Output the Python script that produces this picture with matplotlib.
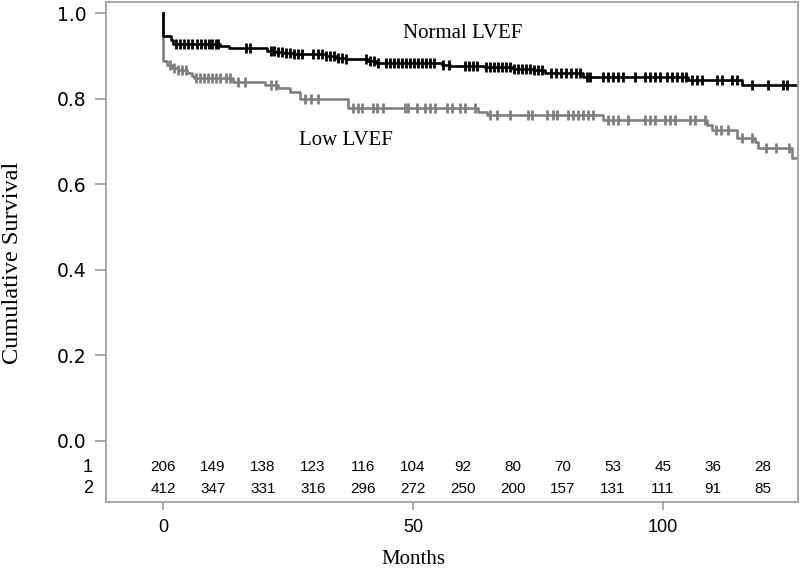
import numpy as np
import matplotlib
matplotlib.use("Agg")
import matplotlib.pyplot as plt

# Kaplan-Meier steps (time in months, survival after the step)
normal_times = [0, 0, 1.5, 2.0, 11.4, 13.2, 20.7, 22.4, 24.0, 26.0, 32.5, 34.5, 36.5, 41.0, 42.5,
                55.8, 57.4, 64.2, 70.0, 74.0, 76.4, 84.0, 105.0, 115.8, 126.8]
normal_surv = [1.0, 0.946, 0.937, 0.929, 0.923, 0.919, 0.912, 0.909, 0.906, 0.904, 0.900, 0.896, 0.892, 0.888, 0.884,
               0.879, 0.877, 0.873, 0.869, 0.866, 0.859, 0.851, 0.843, 0.832, 0.832]
normal_censor = [2.5, 3.3, 4.2, 5.0, 5.8, 6.7, 7.5, 8.3, 9.2, 9.8, 10.5, 11.0, 16.6, 17.4,
                 21.5, 22.2, 23.0, 23.8, 24.6, 25.4, 26.2, 27.0, 27.8, 30.0, 31.0, 31.8,
                 32.6, 33.4, 34.2, 35.0, 35.8, 36.6, 40.6, 41.4, 42.2, 43.0,
                 44.6, 45.4, 46.2, 47.0, 47.8, 48.6, 49.4, 50.2, 51.0, 51.8, 52.6, 53.4, 54.2,
                 56.0, 57.2, 60.4, 61.2, 62.0, 62.8,
                 64.6, 65.4, 66.2, 67.0, 67.8, 68.6, 69.4, 70.2, 71.0, 71.8, 72.6, 73.4, 74.2, 75.0, 75.8,
                 77.6, 78.6, 79.6, 80.6, 81.6, 82.6, 83.4, 84.8, 85.4, 88.0, 89.0, 90.0, 91.0, 92.0,
                 94.4, 96.4, 97.4, 98.4, 99.4, 100.8, 101.8, 102.8, 103.8, 104.6,
                 105.8, 106.8, 107.8, 110.8, 111.8, 113.8, 114.8, 117.8, 121.0, 124.0, 124.8]

low_times = [0, 0, 0.7, 1.7, 3.0, 4.7, 5.7, 6.2, 14.0, 20.4, 23.0, 25.4, 27.4, 37.0, 63.0, 64.8,
             88.0, 108.8, 109.8, 114.8, 118.4, 119.0, 125.8, 126.8]
low_surv = [1.0, 0.888, 0.879, 0.872, 0.867, 0.859, 0.853, 0.849, 0.838, 0.832, 0.824, 0.816, 0.800, 0.779, 0.769, 0.762,
            0.750, 0.738, 0.727, 0.707, 0.699, 0.684, 0.661, 0.661]
low_censor = [1.4, 2.2, 3.0, 3.8, 4.6, 6.6, 7.4, 8.2, 9.0, 9.8, 10.6, 11.4, 12.6, 13.4, 15.0, 16.4,
              21.6, 22.6, 28.4, 29.6, 31.0, 38.0, 39.0, 39.8, 42.0, 42.8, 44.0, 48.4, 49.0, 50.8,
              52.4, 53.4, 54.4, 56.8, 57.8, 59.4, 60.4, 62.4, 65.4, 66.8, 69.4, 73.0, 73.8, 76.8,
              78.0, 78.8, 81.0, 82.0, 83.0, 84.0, 85.0, 86.0, 89.0, 90.0, 91.0, 93.0, 96.4, 97.4, 98.4,
              100.4, 101.4, 102.4, 105.4, 106.4, 108.4, 110.6, 111.6, 113.0, 115.8, 117.8,
              120.6, 122.6, 125.2]

# numbers at risk
risk_months = [0, 10, 20, 30, 40, 50, 60, 70, 80, 90, 100, 110, 120]
risk_group1 = [206, 149, 138, 123, 116, 104, 92, 80, 70, 53, 45, 36, 28]
risk_group2 = [412, 347, 331, 316, 296, 272, 250, 200, 157, 131, 111, 91, 85]


def surv_at(times, surv, t):
    idx = np.searchsorted(times, t, side='right') - 1
    return np.array(surv)[idx]


fig = plt.figure(figsize=(8, 5.73), dpi=100)
ax = fig.add_axes([0.1325, 0.124, 0.865, 0.8725])

black = '#000000'
grey = '#808080'

ax.step(low_times, low_surv, where='post', color=grey, lw=1.9)
ax.plot(low_censor, surv_at(low_times, low_surv, low_censor), ls='none',
        marker='|', ms=7.5, mew=2.0, color=grey)
ax.step(normal_times, normal_surv, where='post', color=black, lw=1.9)
ax.plot(normal_censor, surv_at(normal_times, normal_surv, normal_censor), ls='none',
        marker='|', ms=7.5, mew=2.0, color=black)

ax.set_xlim(-11.4, 127)
ax.set_ylim(-0.1425, 1.026)

ax.set_yticks([0.0, 0.2, 0.4, 0.6, 0.8, 1.0])
ax.set_yticklabels(['0.0', '0.2', '0.4', '0.6', '0.8', '1.0'],
                   fontfamily='DejaVu Sans', fontsize=13.5)
ax.set_xticks([0, 50, 100])
ax.set_xticklabels(['0', '50', '100'], fontfamily='Liberation Sans', fontsize=13)
ax.tick_params(axis='y', length=8, width=1.2, color='#999999', pad=6)
ax.tick_params(axis='x', length=6, width=1.2, color='#999999', pad=6)

for s in ax.spines.values():
    s.set_color('#a0a0a0')
    s.set_linewidth(1.3)

serif = 'Liberation Serif'
fig.text(13 / 800, 1 - 263 / 573, 'Cumulative Survival', fontfamily=serif, fontsize=17.5,
         rotation=90, ha='center', va='center')
fig.text(413 / 800, 1 - 559 / 573, 'Months', fontfamily=serif, fontsize=15,
         ha='center', va='center')

ax.text(60, 0.953, 'Normal LVEF', fontfamily=serif, fontsize=15, ha='center', va='center')
ax.text(36.5, 0.703, 'Low LVEF', fontfamily=serif, fontsize=15, ha='center', va='center')

# numbers-at-risk table
for t, n1, n2 in zip(risk_months, risk_group1, risk_group2):
    ax.text(t, -0.061, str(n1), fontfamily='Liberation Sans', fontsize=11, ha='center', va='center')
    ax.text(t, -0.112, str(n2), fontfamily='Liberation Sans', fontsize=11, ha='center', va='center')
ax.text(-14, -0.061, '1', fontfamily='Liberation Sans', fontsize=13, ha='right', va='center', clip_on=False)
ax.text(-14, -0.112, '2', fontfamily='Liberation Sans', fontsize=13, ha='right', va='center', clip_on=False)

fig.savefig('out.png', dpi=100)
